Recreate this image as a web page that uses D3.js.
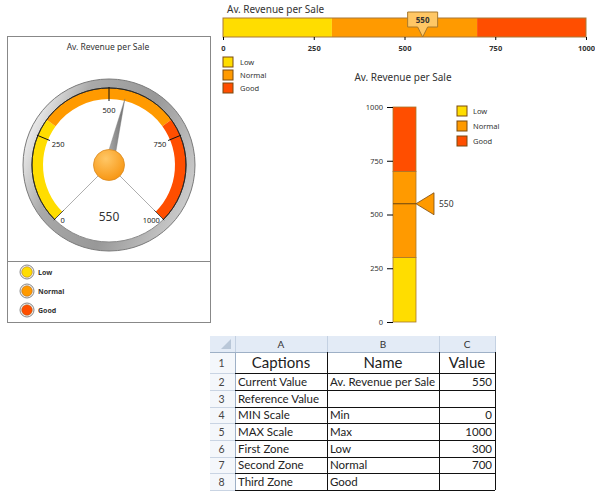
<!DOCTYPE html>
<html>
<head>
<meta charset="utf-8">
<script src="https://cdn.jsdelivr.net/npm/d3@7"></script>
<style>
  body { margin: 0; background: #fff; }
  svg { display: block; }
  text { font-family: "Noto Sans", sans-serif; }
  .tbl text { font-family: Lato, "Noto Sans", sans-serif; }
</style>
</head>
<body>
<svg id="chart" width="595" height="492"></svg>
<script>
// values read from the sheet
const chartTitle = "Av. Revenue per Sale"
const currentValue = 550
const minScale = 0
const maxScale = 1000
const zoneNames = ["Low", "Normal", "Good"]
const zoneEdges = [0, 300, 700, 1000]
const tickValues = [0, 250, 500, 750, 1000]

// spreadsheet cells
const colLetters = ["A", "B", "C"]
const captions = ["Captions", "Current Value", "Reference Value", "MIN Scale", "MAX Scale", "First Zone", "Second Zone", "Third Zone"]
const names = ["Name", "Av. Revenue per Sale", "", "Min", "Max", "Low", "Normal", "Good"]
const cellValues = ["Value", "550", "", "0", "1000", "300", "700", ""]

const zoneColors = ["#FFDD00", "#FF9A00", "#FF4E00"]
const zones = zoneNames.map((n, i) => ({ name: n, from: zoneEdges[i], to: zoneEdges[i + 1], color: zoneColors[i] }))

const svg = d3.select("#chart")
const defs = svg.append("defs")

// ---------- top horizontal bullet ----------
const xTop = d3.scaleLinear().domain([minScale, maxScale]).range([223, 586])
const topG = svg.append("g")
topG.append("text").text(chartTitle).attr("x", 227).attr("y", 13).attr("font-size", 10).attr("fill", "#333")

topG.selectAll("rect.zone").data(zones).join("rect")
  .attr("class", "zone")
  .attr("x", d => xTop(d.from)).attr("width", d => xTop(d.to) - xTop(d.from))
  .attr("y", 18).attr("height", 19)
  .attr("fill", d => d.color)
topG.append("rect").attr("x", xTop(minScale)).attr("y", 18)
  .attr("width", xTop(maxScale) - xTop(minScale)).attr("height", 19)
  .attr("fill", "none").attr("stroke", "#A87838").attr("stroke-width", 1)

topG.append("g").attr("transform", "translate(0,37)")
  .call(d3.axisBottom(xTop).tickValues(tickValues).tickSize(3).tickPadding(6).tickFormat(d3.format("d")))
  .call(g => g.select(".domain").remove())
  .call(g => g.selectAll("text").attr("font-size", 7.5).attr("font-weight", "bold").attr("fill", "#333").attr("font-family", "Noto Sans"))

// value callout
const mx = xTop(currentValue)
topG.append("path")
  .attr("d", `M${mx - 15},12 H${mx + 15} V27 H${mx + 5} L${mx},37 L${mx - 5},27 H${mx - 15} Z`)
  .attr("fill", "#FFC765").attr("stroke", "#A8782C").attr("stroke-width", 1)
topG.append("text").text(currentValue).attr("x", mx).attr("y", 23)
  .attr("text-anchor", "middle").attr("font-size", 8).attr("font-weight", "bold").attr("fill", "#333")

const topLeg = topG.selectAll("g.leg").data(zones).join("g")
  .attr("transform", (d, i) => `translate(223,${57 + i * 13})`)
topLeg.append("rect").attr("width", 10).attr("height", 10).attr("fill", d => d.color).attr("stroke", "#7A4A10")
topLeg.append("text").text(d => d.name).attr("x", 17).attr("y", 8).attr("font-size", 7.5).attr("fill", "#333")

// ---------- gauge ----------
const gauge = svg.append("g")
gauge.append("rect").attr("x", 7.5).attr("y", 36.5).attr("width", 203).attr("height", 286)
  .attr("fill", "#fff").attr("stroke", "#888")
gauge.append("line").attr("x1", 7.5).attr("x2", 210.5).attr("y1", 261.5).attr("y2", 261.5).attr("stroke", "#888")
gauge.append("text").text(chartTitle).attr("x", 108).attr("y", 50)
  .attr("text-anchor", "middle").attr("font-size", 8.5).attr("fill", "#333")

const cx = 109, cy = 165
const ang = d3.scaleLinear().domain([minScale, maxScale]).range([-135 * Math.PI / 180, 135 * Math.PI / 180])
const g = gauge.append("g").attr("transform", `translate(${cx},${cy})`)

const ringGrad = defs.append("linearGradient").attr("id", "ring").attr("x1", 0).attr("y1", 0.3).attr("x2", 1).attr("y2", 0.7)
ringGrad.selectAll("stop").data([[0, "#f4f4f4"], [0.25, "#a9a9a9"], [0.6, "#989898"], [1, "#cfcfcf"]]).join("stop")
  .attr("offset", d => d[0]).attr("stop-color", d => d[1])
g.append("circle").attr("r", 86).attr("fill", "url(#ring)").attr("stroke", "#7a7a7a")
g.append("circle").attr("r", 77).attr("fill", "#fff").attr("stroke", "#8a8a8a")

const band = d3.arc().innerRadius(66).outerRadius(77)
g.selectAll("path.band").data(zones).join("path")
  .attr("class", "band")
  .attr("d", d => band({ startAngle: ang(d.from), endAngle: ang(d.to) }))
  .attr("fill", d => d.color)
g.append("path")
  .attr("d", d3.arc().innerRadius(77).outerRadius(77)({ startAngle: ang(minScale), endAngle: ang(maxScale) }))
  .attr("fill", "none").attr("stroke", "#222").attr("stroke-width", 0.8)

const pt = (v, r) => [Math.sin(ang(v)) * r, -Math.cos(ang(v)) * r]
g.selectAll("line.tick").data(tickValues).join("line")
  .attr("class", "tick")
  .attr("x1", d => pt(d, 64)[0]).attr("y1", d => pt(d, 64)[1])
  .attr("x2", d => pt(d, 78)[0]).attr("y2", d => pt(d, 78)[1])
  .attr("stroke", "#111").attr("stroke-width", 1)
// thin spokes to the ends of the scale
g.selectAll("line.spoke").data([minScale, maxScale]).join("line")
  .attr("class", "spoke")
  .attr("x1", 0).attr("y1", 0)
  .attr("x2", d => pt(d, 76)[0]).attr("y2", d => pt(d, 76)[1])
  .attr("stroke", "#777").attr("stroke-width", 0.6)

g.selectAll("text.tl").data(tickValues).join("text")
  .attr("class", "tl")
  .attr("x", d => (d === minScale ? pt(d, 74)[0] + 6 : d === maxScale ? pt(d, 74)[0] - 10 : pt(d, 55)[0]))
  .attr("y", d => (d === minScale || d === maxScale ? pt(d, 74)[1] + 3 : pt(d, 55)[1]))
  .attr("dy", "0.35em").attr("text-anchor", "middle")
  .attr("font-size", 7.5).attr("fill", "#222").text(d => d)

const needleGrad = defs.append("linearGradient").attr("id", "needle").attr("x1", 0).attr("x2", 1)
needleGrad.selectAll("stop").data([[0, "#b8b8b8"], [1, "#6e6e6e"]]).join("stop")
  .attr("offset", d => d[0]).attr("stop-color", d => d[1])
const tip = pt(currentValue, 68)
const a = ang(currentValue)
const bw = 4.5
g.append("path")
  .attr("d", `M${tip[0]},${tip[1]} L${Math.cos(a) * bw},${Math.sin(a) * bw} L${-Math.cos(a) * bw},${-Math.sin(a) * bw} Z`)
  .attr("fill", "url(#needle)").attr("stroke", "#777").attr("stroke-width", 0.4)

const knobGrad = defs.append("radialGradient").attr("id", "knob").attr("cx", 0.4).attr("cy", 0.3).attr("r", 0.75)
knobGrad.selectAll("stop").data([[0, "#FFC766"], [1, "#F7940F"]]).join("stop")
  .attr("offset", d => d[0]).attr("stop-color", d => d[1])
g.append("circle").attr("r", 15.5).attr("fill", "url(#knob)").attr("stroke", "#D98A22").attr("stroke-width", 0.8)

g.append("text").text(currentValue).attr("x", 0).attr("y", 56)
  .attr("text-anchor", "middle").attr("font-size", 12).attr("fill", "#333")

const gLeg = gauge.selectAll("g.gleg").data(zones).join("g")
  .attr("transform", (d, i) => `translate(27,${272 + i * 19})`)
gLeg.append("circle").attr("r", 7).attr("fill", "#f2f2f2").attr("stroke", "#888")
gLeg.append("circle").attr("r", 5.3).attr("fill", d => d.color).attr("stroke", "#a06020").attr("stroke-width", 0.5)
gLeg.append("text").text(d => d.name).attr("x", 11).attr("y", 3)
  .attr("font-size", 7).attr("font-weight", "bold").attr("fill", "#333")

// ---------- vertical bullet ----------
const yV = d3.scaleLinear().domain([minScale, maxScale]).range([322, 107])
const bx = 393, bwid = 23
const vert = svg.append("g")
vert.append("text").text(chartTitle).attr("x", 403).attr("y", 81)
  .attr("text-anchor", "middle").attr("font-size", 10).attr("fill", "#333")
vert.selectAll("rect.zone").data(zones).join("rect")
  .attr("class", "zone")
  .attr("x", bx).attr("width", bwid)
  .attr("y", d => yV(d.to)).attr("height", d => yV(d.from) - yV(d.to))
  .attr("fill", d => d.color).attr("stroke", "#A8782C").attr("stroke-width", 0.8)
vert.append("g").attr("transform", `translate(${bx},0)`)
  .call(d3.axisLeft(yV).tickValues(tickValues).tickSize(6).tickPadding(4).tickFormat(d3.format("d")))
  .call(g => g.select(".domain").remove())
  .call(g => g.selectAll("text").attr("font-size", 7.5).attr("fill", "#333").attr("font-family", "Noto Sans"))
const vy = yV(currentValue)
vert.append("line").attr("x1", bx).attr("x2", bx + bwid).attr("y1", vy).attr("y2", vy)
  .attr("stroke", "#6a4510").attr("stroke-width", 1)
vert.append("path")
  .attr("d", `M${bx + bwid},${vy} L${bx + bwid + 18},${vy - 11} V${vy + 11} Z`)
  .attr("fill", "#FF9A00").attr("stroke", "#7a4a10").attr("stroke-width", 0.8)
vert.append("text").text(currentValue).attr("x", bx + bwid + 23).attr("y", vy + 3)
  .attr("font-size", 8.5).attr("fill", "#333")

const vLeg = vert.selectAll("g.vleg").data(zones).join("g")
  .attr("transform", (d, i) => `translate(457,${106 + i * 15})`)
vLeg.append("rect").attr("width", 10).attr("height", 10).attr("fill", d => d.color).attr("stroke", "#7A4A10")
vLeg.append("text").text(d => d.name).attr("x", 16).attr("y", 8).attr("font-size", 7.5).attr("fill", "#333")

// ---------- spreadsheet ----------
const colX = [210, 235, 327, 439, 495]
const rowY = [336, 352, 373, 390, 407, 423, 440, 457, 473, 490]
const tbl = svg.append("g").attr("class", "tbl")

tbl.append("rect").attr("x", colX[0]).attr("y", rowY[0]).attr("width", colX[4] - colX[0]).attr("height", rowY[1] - rowY[0])
  .attr("fill", "#E3EBF6")
tbl.append("rect").attr("x", colX[0]).attr("y", rowY[1]).attr("width", colX[1] - colX[0]).attr("height", rowY[rowY.length - 1] - rowY[1])
  .attr("fill", "#F4F7FB")
tbl.append("path").attr("d", `M${colX[1] - 4},${rowY[0] + 3} V${rowY[1] - 3} H${colX[1] - 14} Z`).attr("fill", "#B9C7D8")

// light grid in headers
tbl.selectAll("line.hv").data(colX.slice(1)).join("line")
  .attr("x1", d => d + 0.5).attr("x2", d => d + 0.5).attr("y1", rowY[0]).attr("y2", rowY[1])
  .attr("stroke", "#C4D1E2")
tbl.selectAll("line.rh").data(rowY.slice(1)).join("line")
  .attr("x1", colX[0]).attr("x2", colX[1]).attr("y1", d => d + 0.5).attr("y2", d => d + 0.5)
  .attr("stroke", "#C9D4E3")
tbl.append("line").attr("x1", colX[1] + 0.5).attr("x2", colX[1] + 0.5).attr("y1", rowY[1]).attr("y2", rowY[rowY.length - 1])
  .attr("stroke", "#9EB0C6")
tbl.append("line").attr("x1", colX[0]).attr("x2", colX[4]).attr("y1", rowY[1] + 0.5).attr("y2", rowY[1] + 0.5)
  .attr("stroke", "#9EB0C6")

// black cell borders
tbl.selectAll("line.bh").data(rowY.slice(2)).join("line")
  .attr("x1", colX[1]).attr("x2", colX[4]).attr("y1", d => d + 0.5).attr("y2", d => d + 0.5)
  .attr("stroke", "#111")
tbl.selectAll("line.bv").data(colX.slice(2)).join("line")
  .attr("x1", d => d + 0.5).attr("x2", d => d + 0.5).attr("y1", rowY[1]).attr("y2", rowY[rowY.length - 1])
  .attr("stroke", "#111")

tbl.selectAll("text.cl").data(colLetters).join("text")
  .attr("x", (d, i) => (colX[i + 1] + colX[i + 2]) / 2).attr("y", rowY[0] + 12)
  .attr("text-anchor", "middle").attr("font-size", 10).attr("fill", "#333").text(d => d)
tbl.selectAll("text.rn").data(captions).join("text")
  .attr("x", (colX[0] + colX[1]) / 2 - 1).attr("y", (d, i) => (rowY[i + 1] + rowY[i + 2]) / 2 + 4)
  .attr("text-anchor", "middle").attr("font-size", 10.5).attr("fill", "#444").text((d, i) => i + 1)

const rowMid = i => (rowY[i + 1] + rowY[i + 2]) / 2
captions.forEach((c, i) => {
  const head = i === 0
  const fs = head ? 15 : 11.5
  const base = rowMid(i) + (head ? 5 : 4)
  tbl.append("text").text(c).attr("font-size", fs).attr("fill", "#222").attr("y", base)
    .attr("x", head ? (colX[1] + colX[2]) / 2 : colX[1] + 3).attr("text-anchor", head ? "middle" : "start")
  tbl.append("text").text(names[i]).attr("font-size", fs).attr("fill", "#222").attr("y", base)
    .attr("x", head ? (colX[2] + colX[3]) / 2 : colX[2] + 3).attr("text-anchor", head ? "middle" : "start")
  tbl.append("text").text(cellValues[i]).attr("font-size", fs).attr("fill", "#222").attr("y", base)
    .attr("x", head ? (colX[3] + colX[4]) / 2 : colX[4] - 3).attr("text-anchor", head ? "middle" : "end")
})
</script>
</body>
</html>
